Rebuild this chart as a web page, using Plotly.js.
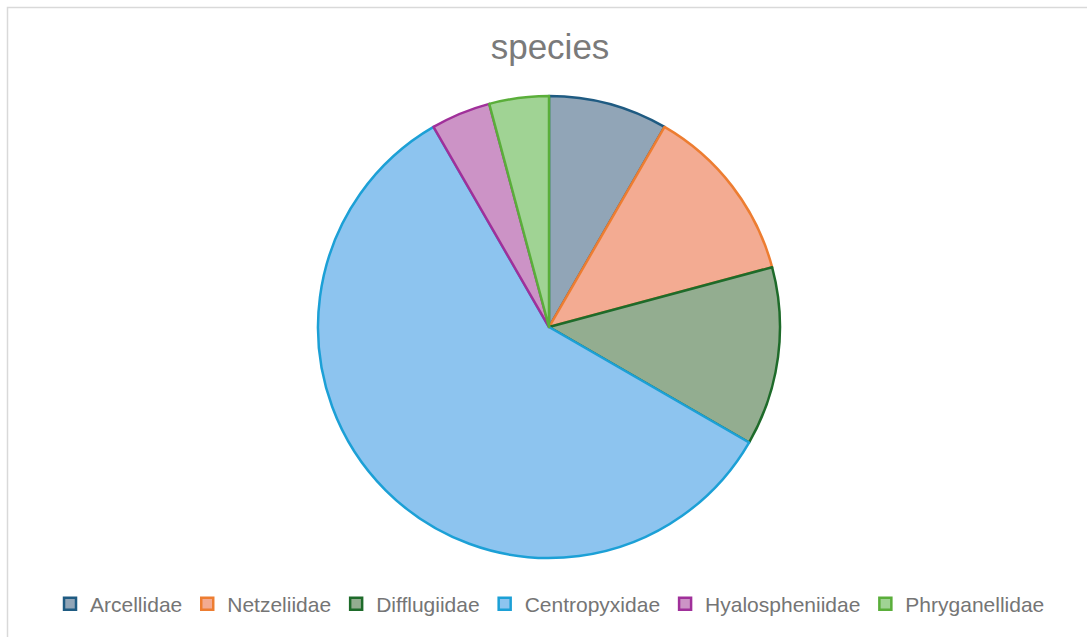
<!DOCTYPE html>
<html>
<head>
<meta charset="utf-8">
<script src="https://cdn.plot.ly/plotly-3.0.1.min.js"></script>
<style>
html,body{margin:0;padding:0;background:#fff;}
#chart{width:1087px;height:637px;}
</style>
</head>
<body>
<div id="chart"></div>
<script>
var families = ["Arcellidae", "Netzeliidae", "Difflugiidae", "Centropyxidae", "Hyalospheniidae", "Phryganellidae"];
var speciesCounts = [2, 3, 3, 14, 1, 1];
var fillColors = ["#91a5b7", "#f3ab92", "#93ad90", "#8dc4ef", "#cc93c6", "#a0d394"];
var lineColors = ["#1f5b82", "#ed7d31", "#1e6b2a", "#1ca0d6", "#a0309a", "#5aae3a"];

var W = 1087, H = 637, cx = 549, cy = 327, r = 231;

var trace = {
  type: "pie",
  labels: families,
  values: speciesCounts,
  sort: false,
  direction: "clockwise",
  rotation: 0,
  textinfo: "none",
  hoverinfo: "label+value+percent",
  marker: {colors: fillColors, line: {color: lineColors, width: 2.5}},
  domain: {x: [(cx - r) / W, (cx + r) / W], y: [(H - cy - r) / H, (H - cy + r) / H]}
};

var layout = {
  width: W, height: H,
  margin: {l: 0, r: 0, t: 0, b: 0},
  paper_bgcolor: "#ffffff",
  font: {family: "Liberation Sans, Arial, sans-serif", color: "#757575"},
  title: {text: "species", font: {size: 35, color: "#7a7a7a", family: "Liberation Sans, Arial, sans-serif"},
          x: 0.506, xanchor: "center", y: 1 - 47 / H, yanchor: "middle", yref: "container"},
  showlegend: true,
  legend: {orientation: "h", x: 0.506, xanchor: "center", y: (H - 604) / H, yanchor: "middle",
           font: {size: 21, color: "#757575"}, itemwidth: 30, traceorder: "normal"},
  shapes: [{type: "rect", xref: "paper", yref: "paper", x0: 7.5 / W, x1: 1.02, y0: -0.02, y1: 1 - 7.5 / H,
            line: {color: "#d9d9d9", width: 1.5}, fillcolor: "rgba(0,0,0,0)", layer: "below"}]
};

Plotly.newPlot("chart", [trace], layout, {displayModeBar: false, staticPlot: true});
</script>
</body>
</html>
